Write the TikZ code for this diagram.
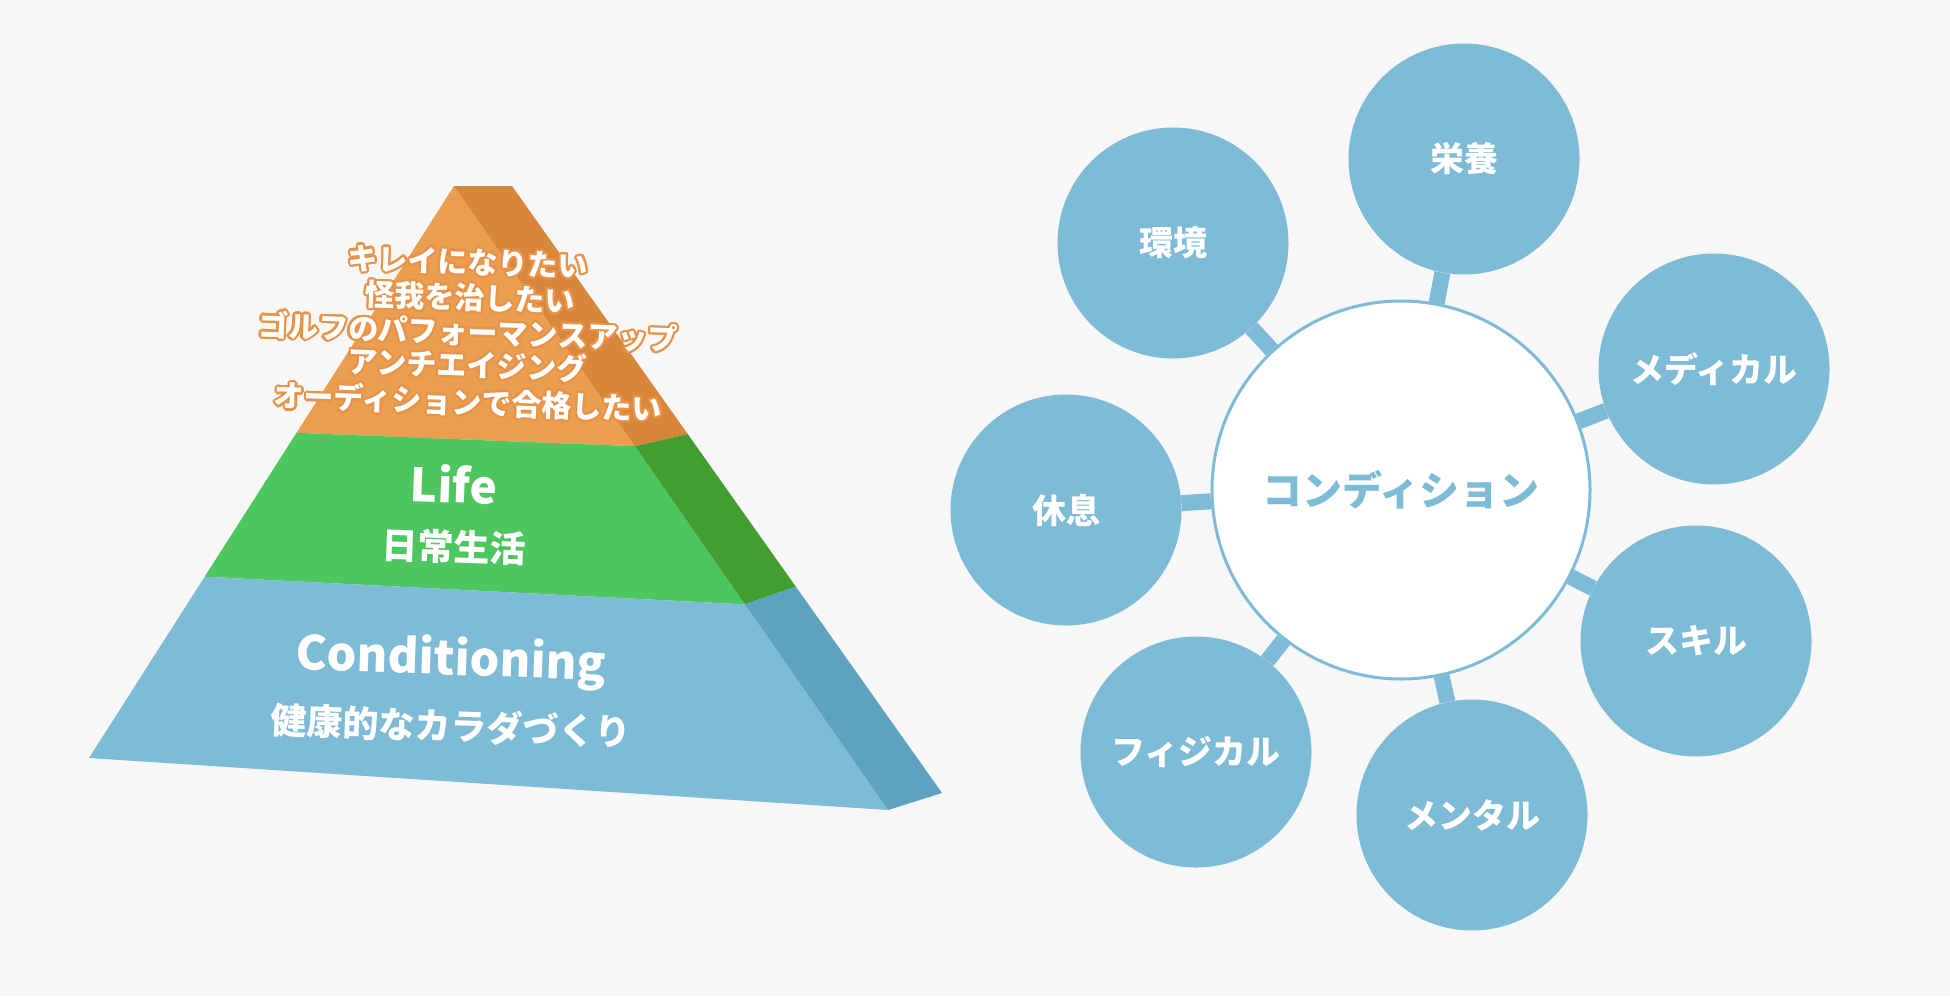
\documentclass[tikz,border=0pt]{standalone}
\usepackage{fontspec}
\setmainfont{Noto Sans CJK JP}
\usepackage[copies]{contour}
\usetikzlibrary{calc}
\contourlength{2.2pt}
\contournumber{16}
\definecolor{bgpaper}{HTML}{F7F7F7}
\definecolor{orfront}{HTML}{EA9E50}
\definecolor{orside}{HTML}{D8863A}
\definecolor{orline}{HTML}{E8934A}
\definecolor{grfront}{HTML}{4EC660}
\definecolor{grside}{HTML}{449D31}
\definecolor{blfront}{HTML}{7EBBD6}
\definecolor{blside}{HTML}{5FA2BF}
\tikzset{
  wish/.style={text=white,font=\bfseries\fontsize{30}{30}\selectfont,rotate=-2},
  tiertext/.style={text=white,font=\bfseries\fontsize{#1}{#1}\selectfont,rotate=-2},
  petal/.style={circle,fill=blfront,minimum size=231pt,inner sep=0pt,text=white,font=\bfseries\fontsize{34}{34}\selectfont},
  hub/.style={circle,fill=white,draw=blfront,line width=3pt,minimum size=378pt,inner sep=0pt,text=blfront,font=\bfseries\fontsize{40}{40}\selectfont},
  spoke/.style={blfront,line width=16pt}
}
\begin{document}
\begin{tikzpicture}[x=1pt,y=-1pt]
 \useasboundingbox (0,0) rectangle (1950,996);
 \fill[bgpaper] (0,0) rectangle (1950,996);
 \coordinate (apex) at (454,186);
 \coordinate (apexr) at (512,186);
 \coordinate (bl) at (89,758);
 \coordinate (br) at (888,810);
 \coordinate (bs) at (942,793);
 \coordinate (ogl) at ($(apex)!0.4315!(bl)$);
 \coordinate (ogr) at ($(apex)!0.417!(br)$);
 \coordinate (ogs) at ($(apexr)!0.4087!(bs)$);
 \coordinate (gbl) at ($(apex)!0.683!(bl)$);
 \coordinate (gbr) at ($(apex)!0.6705!(br)$);
 \coordinate (gbs) at ($(apexr)!0.66!(bs)$);
 \fill[orfront] (apex) -- (ogl) -- (ogr) -- cycle;
 \fill[orside] (apex) -- (apexr) -- (ogs) -- (ogr) -- cycle;
 \fill[grfront] (ogl) -- (gbl) -- (gbr) -- (ogr) -- cycle;
 \fill[grside] (ogr) -- (ogs) -- (gbs) -- (gbr) -- cycle;
 \fill[blfront] (gbl) -- (bl) -- (br) -- (gbr) -- cycle;
 \fill[blside] (gbr) -- (gbs) -- (bs) -- (br) -- cycle;
 \node[wish] (w1) at (468,263) {\contour{orline}{キレイになりたい}};
 \node[wish] (w2) at (470,299) {\contour{orline}{怪我を治したい}};
 \node[wish] (w3) at (468,333) {\contour{orline}{ゴルフのパフォーマンスアップ}};
 \node[wish] (w4) at (467,366) {\contour{orline}{アンチエイジング}};
 \node[wish] (w5) at (468,403) {\contour{orline}{オーディションで合格したい}};
 \node[tiertext=46] (life) at (454,484) {Life};
 \node[tiertext=36] (lifejp) at (454,547) {日常生活};
 \node[tiertext=47] (cond) at (451,661) {Conditioning};
 \node[tiertext=36] (condjp) at (451,726) {健康的なカラダづくり};
 \node[hub] (hub) at (1401,490) {コンディション};
 \node[petal] (eiyou) at (1464,159) {栄養};
 \node[petal] (kankyou) at (1173,243) {環境};
 \node[petal] (medical) at (1714,369) {メディカル};
 \node[petal] (kyusoku) at (1066,510) {休息};
 \node[petal] (skill) at (1696,641) {スキル};
 \node[petal] (physical) at (1196,752) {フィジカル};
 \node[petal] (mental) at (1472,815) {メンタル};
 \draw[spoke] (hub) -- (eiyou);
 \draw[spoke] (hub) -- (kankyou);
 \draw[spoke] (hub) -- (medical);
 \draw[spoke] (hub) -- (kyusoku);
 \draw[spoke] (hub) -- (skill);
 \draw[spoke] (hub) -- (physical);
 \draw[spoke] (hub) -- (mental);
\end{tikzpicture}
\end{document}
